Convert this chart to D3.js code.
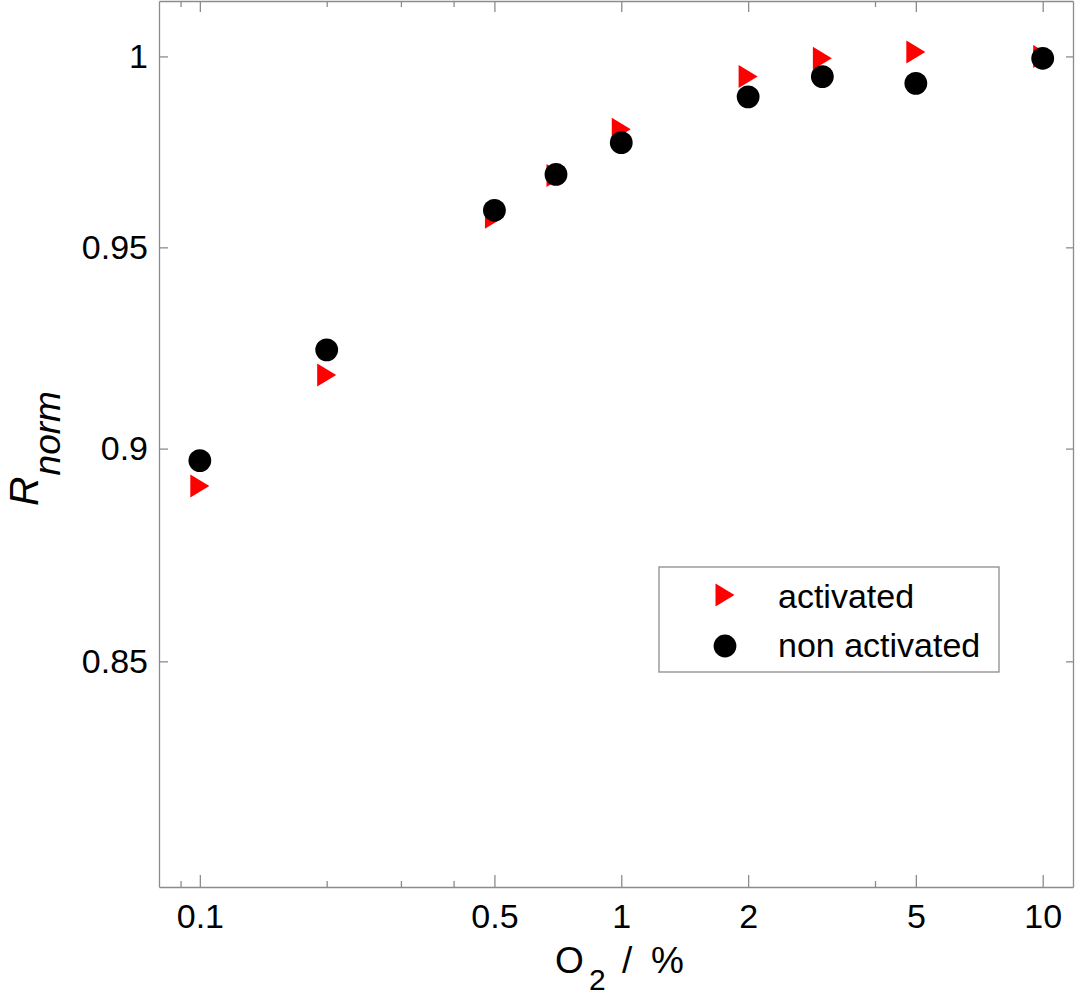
<!DOCTYPE html>
<html>
<head>
<meta charset="utf-8">
<script src="https://cdn.jsdelivr.net/npm/d3@7"></script>
<style>
    body { margin: 0; background: #fff; }
    svg { display: block; font-family: "Liberation Sans", Arial, sans-serif; }
    .axis path, .axis line { stroke: #8c8c8c; stroke-width: 1.3; }
    .axis text { fill: #000; font-size: 34px; }
</style>
</head>
<body>
<svg id="chart" width="1079" height="1000"></svg>
<script>
// O2 concentration (%)
const o2 = [0.1, 0.2, 0.5, 0.7, 1, 2, 3, 5, 10];
// normalised response
const activated = [0.891, 0.918, 0.9577, 0.9685, 0.9806, 0.9946, 0.9995, 1.0012, 1.0000];
const nonActivated = [0.8971, 0.9242, 0.9595, 0.9688, 0.9771, 0.9892, 0.9946, 0.9928, 0.9995];

// axis ticks
const xMajor = [0.1, 0.5, 1, 2, 5, 10];
const xMinor = [0.09, 0.2, 0.3, 0.4, 4];
const yMajor = [0.85, 0.9, 0.95, 1];

const legendLabels = ["activated", "non activated"];

/*------------------- layout --------------------*/
const plot = { left: 159, right: 1073, top: 1, bottom: 887 };

const svg = d3.select("#chart");

let x = d3.scaleLog()
    .domain([0.08, 11.8])
    .range([plot.left, plot.right]);

let y = d3.scaleLog()
    .domain([0.8, 1.015])
    .range([plot.bottom, plot.top]);

const fmt = d => String(d);

// bottom axis, major + minor
svg.append("g")
    .attr("class", "axis")
    .attr("transform", "translate(0," + plot.bottom + ")")
    .call(d3.axisBottom(x).tickValues(xMajor).tickFormat(fmt)
        .tickSizeInner(-12).tickSizeOuter(0).tickPadding(17));
svg.append("g")
    .attr("class", "axis")
    .attr("transform", "translate(0," + plot.bottom + ")")
    .call(d3.axisBottom(x).tickValues(xMinor).tickFormat("")
        .tickSizeInner(-6).tickSizeOuter(0))
    .select(".domain").remove();

// top axis mirror
svg.append("g")
    .attr("class", "axis")
    .attr("transform", "translate(0," + plot.top + ")")
    .call(d3.axisTop(x).tickValues(xMajor).tickFormat("")
        .tickSizeInner(-11).tickSizeOuter(0));
svg.append("g")
    .attr("class", "axis")
    .attr("transform", "translate(0," + plot.top + ")")
    .call(d3.axisTop(x).tickValues(xMinor).tickFormat("")
        .tickSizeInner(-6).tickSizeOuter(0))
    .select(".domain").remove();

// left axis
svg.append("g")
    .attr("class", "axis")
    .attr("transform", "translate(" + plot.left + ",0)")
    .call(d3.axisLeft(y).tickValues(yMajor).tickFormat(fmt)
        .tickSizeInner(-9).tickSizeOuter(0).tickPadding(11));

// right axis mirror
svg.append("g")
    .attr("class", "axis")
    .attr("transform", "translate(" + plot.right + ",0)")
    .call(d3.axisRight(y).tickValues(yMajor).tickFormat("")
        .tickSizeInner(-7).tickSizeOuter(0));

svg.selectAll(".axis text").attr("font-family", null).attr("font-size", null);

/*------------------- marks --------------------*/
const triPath = "M-9.5,-11.5L-9.5,11.5L9.5,0Z";
const circleR = 11.4;

svg.append("g")
    .selectAll("path")
    .data(o2.map((v, i) => ({ x: v, y: activated[i] })))
    .enter()
    .append("path")
    .attr("d", triPath)
    .attr("fill", "#ff0000")
    .attr("transform", d => "translate(" + x(d.x) + "," + y(d.y) + ")");

svg.append("g")
    .selectAll("circle")
    .data(o2.map((v, i) => ({ x: v, y: nonActivated[i] })))
    .enter()
    .append("circle")
    .attr("cx", d => x(d.x))
    .attr("cy", d => y(d.y))
    .attr("r", circleR)
    .attr("fill", "#000");

/*------------------- legend --------------------*/
const legend = svg.append("g");
legend.append("rect")
    .attr("x", 659).attr("y", 567)
    .attr("width", 340).attr("height", 105)
    .attr("fill", "#fff")
    .attr("stroke", "#8c8c8c")
    .attr("stroke-width", 1.3);
legend.append("path")
    .attr("d", triPath)
    .attr("fill", "#ff0000")
    .attr("transform", "translate(725,595)");
legend.append("circle")
    .attr("cx", 725).attr("cy", 646).attr("r", circleR)
    .attr("fill", "#000");
legend.selectAll("text")
    .data(legendLabels)
    .enter()
    .append("text")
    .attr("x", 778)
    .attr("y", (d, i) => 608 + i * 49)
    .attr("font-size", 34)
    .text(d => d);

/*------------------- axis titles --------------------*/
const xt = svg.append("text")
    .attr("y", 973)
    .attr("font-size", 37);
xt.append("tspan").attr("x", 555).text("O");
xt.append("tspan").attr("x", 589).attr("dy", 17).attr("font-size", 30).text("2");
xt.append("tspan").attr("x", 622).attr("dy", -17).text("/");
xt.append("tspan").attr("x", 651).text("%");

const yt = svg.append("text")
    .attr("transform", "translate(38,506) rotate(-90)")
    .attr("font-style", "italic");
yt.append("tspan").attr("font-size", 41).text("R");
yt.append("tspan").attr("dy", 22).attr("dx", 1).attr("font-size", 37).text("norm");
</script>
</body>
</html>
